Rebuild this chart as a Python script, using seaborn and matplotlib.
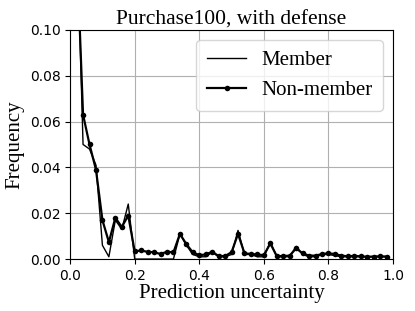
import numpy as np
import pandas as pd
import matplotlib
matplotlib.use('Agg')
import matplotlib.pyplot as plt
import seaborn as sns

# Bin centres (prediction uncertainty)
bins = [0.02, 0.04, 0.06, 0.08, 0.10, 0.12, 0.14, 0.16, 0.18, 0.20,
        0.22, 0.24, 0.26, 0.28, 0.30, 0.32, 0.34, 0.36, 0.38, 0.40,
        0.42, 0.44, 0.46, 0.48, 0.50, 0.52, 0.54, 0.56, 0.58, 0.60,
        0.62, 0.64, 0.66, 0.68, 0.70, 0.72, 0.74, 0.76, 0.78, 0.80,
        0.82, 0.84, 0.86, 0.88, 0.90, 0.92, 0.94, 0.96, 0.98]

member = [0.150, 0.050, 0.048, 0.041, 0.006, 0.001, 0.017, 0.013, 0.024, 0.000,
          0.000, 0.000, 0.000, 0.000, 0.000, 0.000, 0.011, 0.006, 0.002, 0.001,
          0.001, 0.003, 0.001, 0.001, 0.002, 0.0125, 0.002, 0.002, 0.001, 0.001,
          0.0075, 0.001, 0.001, 0.001, 0.0055, 0.002, 0.001, 0.001, 0.002, 0.002,
          0.0015, 0.001, 0.001, 0.001, 0.001, 0.001, 0.001, 0.001, 0.001]

non_member = [0.137, 0.063, 0.050, 0.039, 0.017, 0.0074, 0.018, 0.014, 0.019, 0.0033,
              0.0038, 0.0031, 0.0030, 0.0022, 0.0032, 0.0029, 0.0110, 0.0065, 0.0029, 0.0017,
              0.0020, 0.0032, 0.0013, 0.0013, 0.0030, 0.0110, 0.0025, 0.0022, 0.0020, 0.0017,
              0.0068, 0.0013, 0.0013, 0.0015, 0.0047, 0.0025, 0.0015, 0.0015, 0.0022, 0.0025,
              0.0022, 0.0015, 0.0012, 0.0014, 0.0012, 0.0010, 0.0011, 0.0012, 0.0011]

df = pd.DataFrame({'x': bins, 'member': member, 'non_member': non_member})

serif = ['Liberation Serif', 'DejaVu Serif']

fig = plt.figure(figsize=(4.15, 3.11), dpi=100)
ax = fig.add_axes([0.169, 0.167, 0.778, 0.737])

sns.lineplot(data=df, x='x', y='member', ax=ax, color='black', lw=1.0, label='Member')
sns.lineplot(data=df, x='x', y='non_member', ax=ax, color='black', lw=1.6,
             marker='o', markersize=4, markeredgewidth=0, label='Non-member')

ax.set_xlim(0, 1.0)
ax.set_ylim(0, 0.10)
ax.set_xticks([0.0, 0.2, 0.4, 0.6, 0.8, 1.0])
ax.set_yticks([0.00, 0.02, 0.04, 0.06, 0.08, 0.10])
ax.grid(True, color='#b0b0b0', lw=0.8)
ax.set_axisbelow(True)

ax.set_title('Purchase100, with defense', family=serif, fontsize=15.5, pad=4)
ax.set_xlabel('Prediction uncertainty', family=serif, fontsize=15, labelpad=1)
ax.set_ylabel('Frequency', family=serif, fontsize=15, labelpad=4)
ax.tick_params(labelsize=10)

leg = ax.legend(loc='upper right', prop={'family': serif, 'size': 15},
                handlelength=1.9, handletextpad=0.7, borderpad=0.5, labelspacing=0.5)

fig.savefig('out.png', dpi=100)
